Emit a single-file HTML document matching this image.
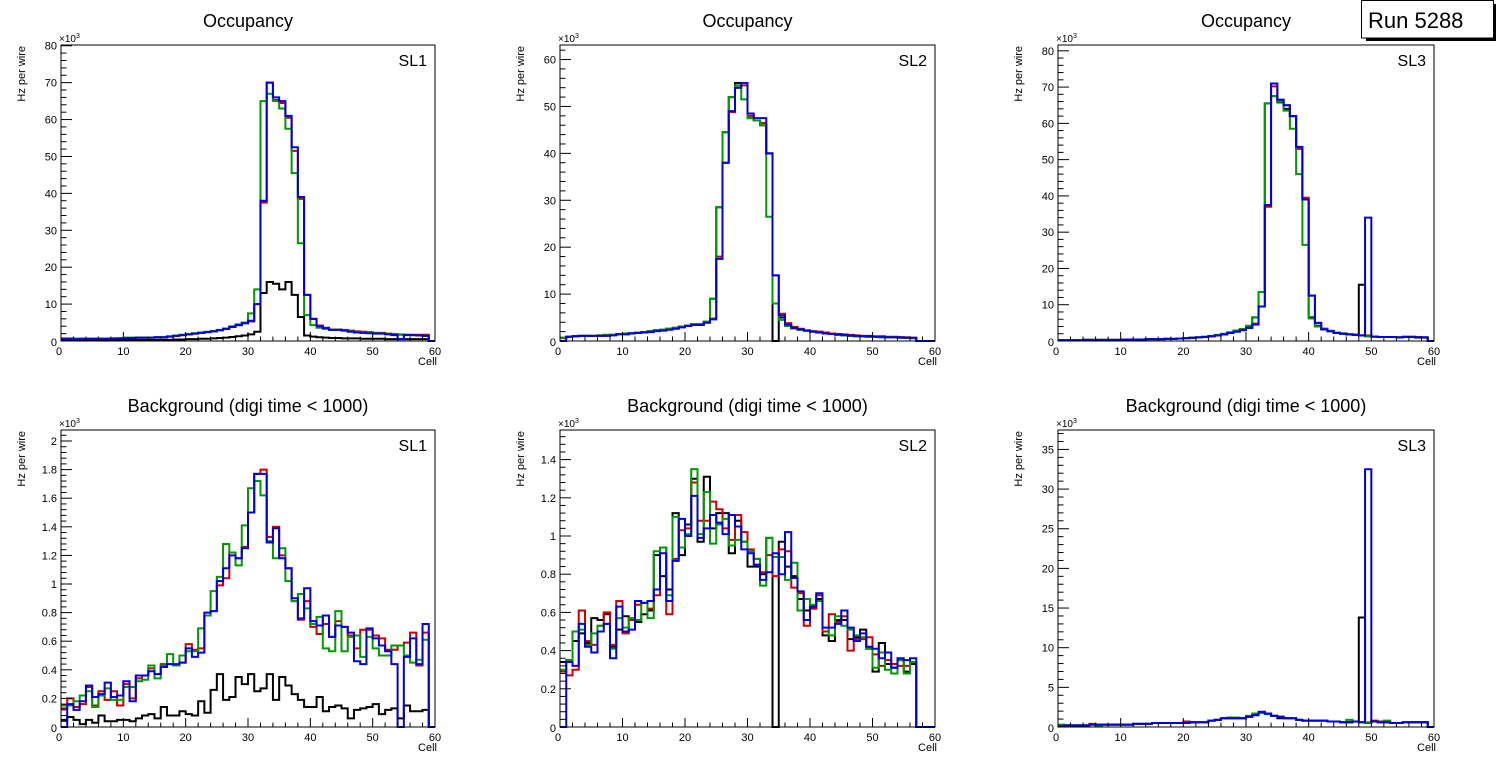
<!DOCTYPE html>
<html><head><meta charset="utf-8"><style>
html,body{margin:0;padding:0;background:#fff}
svg{display:block;font-family:"Liberation Sans",sans-serif}
</style></head><body>
<svg id="c" width="1496" height="772" viewBox="0 0 1496 772"></svg>
<script>
const cells = 60;
const tlBlack=[0.3,0.3,0.3,0.3,0.3,0.3,0.3,0.3,0.3,0.3,0.3,0.3,0.3,0.3,0.3,0.3,0.3,0.3,0.4,0.4,0.5,0.5,0.6,0.6,0.7,0.8,0.9,1.1,1.3,1.5,1.8,2.5,13,16,15.5,14,16,12.5,6.5,1.5,1.2,1.0,0.9,0.8,0.8,0.7,0.7,0.7,0.6,0.6,0.6,0.6,0.5,0.5,0.5,0.5,0.5,0.5,0.5,0];
const tlRed=[0.7,0.7,0.6,0.6,0.6,0.6,0.6,0.6,0.7,0.7,0.8,0.8,0.9,0.9,0.9,1.0,1.0,1.2,1.4,1.6,1.8,2.0,2.2,2.4,2.6,2.9,3.3,3.8,4.3,4.8,5.3,10,37.5,70,65.3,64.5,60.5,51.5,38.5,12.5,6,4.2,3.6,3.1,3.1,3.0,2.8,2.6,2.5,2.4,2.2,2.2,2.0,1.9,1.7,1.7,1.7,1.7,1.7,0];
const tlGreen=[0.5,0.6,0.6,0.6,0.6,0.6,0.6,0.6,0.7,0.7,0.9,0.9,0.9,0.9,0.9,1.0,1.0,1.3,1.5,1.7,1.9,2.1,2.3,2.5,2.7,3.0,3.4,4.0,4.5,5.0,7.5,14,65,67,65,63,57.5,45.5,26.5,7,4.3,3.6,3.3,3.0,3.0,2.9,2.6,2.4,2.3,2.2,2.1,2.1,1.9,1.8,1.8,1.7,1.6,1.5,1.4,0];
const tlBlue=[0.5,0.5,0.5,0.6,0.6,0.6,0.6,0.6,0.6,0.7,0.8,0.8,0.9,0.9,0.9,1.0,1.0,1.2,1.4,1.6,1.8,2.0,2.2,2.4,2.6,2.9,3.3,3.8,4.3,4.8,5.5,10,38,70,66,65,61,52.5,39,12.5,6,4,3.5,3,3,2.8,2.5,2.3,2.2,2.1,2,2,1.8,1.6,0.5,1.6,1.6,1.5,1.4,0];

const tmBlack=[0.7,0.9,1.0,1.1,1.1,1.1,1.2,1.3,1.3,1.5,1.6,1.7,1.8,1.9,2.1,2.3,2.4,2.6,2.8,3.1,3.3,3.6,3.6,4.1,9,28.5,44.5,52,55,55,47.5,47,46,40,0,5,3.2,2.7,2.4,2.2,2.0,1.8,1.6,1.5,1.3,1.2,1.1,1.0,1.0,0.9,0.9,0.8,0.8,0.8,0.7,0.7,0.6,0,0,0];
const tmRed=[0.6,0.9,1.0,1.1,1.1,1.1,1.1,1.2,1.3,1.5,1.5,1.7,1.8,1.9,2.0,2.2,2.3,2.5,2.8,3.1,3.3,3.5,3.5,4.0,4.8,18,38,48.8,54,54.5,48,47,46.5,40,14,5.8,3.8,3.0,2.6,2.3,2.1,2.0,1.8,1.6,1.5,1.4,1.3,1.2,1.1,1.1,1.0,1.0,0.9,0.9,0.8,0.8,0.7,0,0,0];
const tmGreen=[0.7,0.9,1.0,1.1,1.1,1.1,1.2,1.3,1.3,1.5,1.6,1.7,1.8,1.9,2.1,2.3,2.4,2.6,2.8,3.1,3.3,3.6,3.6,4.1,9,28.5,44.5,52,54.5,51.5,47.5,47,46,26.5,8,4.5,3.2,2.7,2.4,2.2,2.0,1.8,1.6,1.5,1.3,1.2,1.1,1.0,1.0,0.9,0.9,0.8,0.8,0.8,0.7,0.7,0.6,0,0,0];
const tmBlue=[0,0.9,1.0,1.1,1.1,1.1,1.1,1.1,1.2,1.4,1.4,1.6,1.7,1.8,1.9,2.1,2.2,2.4,2.6,2.9,3.2,3.4,3.4,3.9,4.6,17.5,38,49,54,55,48.5,47.5,47.5,40,14,5.5,3.5,2.8,2.5,2.2,2.0,1.8,1.6,1.5,1.4,1.3,1.2,1.1,1.0,1.0,0.9,0.9,0.8,0.8,0.8,0.7,0.7,0,0,0];

const trBlack=[0.2,0.2,0.2,0.2,0.3,0.3,0.3,0.3,0.3,0.3,0.4,0.4,0.4,0.4,0.5,0.5,0.5,0.6,0.6,0.7,0.8,0.9,1.0,1.1,1.3,1.5,1.8,2.2,2.6,3.0,3.8,6.5,13.5,65.5,67.5,65.8,64,62,53,39,6.5,4.2,3.2,2.7,2.2,2.0,1.8,1.7,15.5,1.3,1.2,1.1,1.1,1.1,1.0,1.1,1.1,1.0,1.0,0];
const trRed=[0.2,0.2,0.2,0.2,0.3,0.3,0.3,0.3,0.3,0.3,0.4,0.4,0.4,0.4,0.5,0.5,0.5,0.6,0.6,0.7,0.8,0.9,1.0,1.1,1.3,1.5,1.8,2.2,2.6,3.0,3.6,4.8,9.5,37,70.2,66.5,65,62,53,39.5,12.5,5,3.4,2.8,2.3,2.1,1.9,1.8,1.6,1.5,1.2,1.1,1.1,1.1,1.0,1.2,1.2,1.1,1.0,0];
const trGreen=[0.2,0.2,0.2,0.2,0.3,0.3,0.3,0.3,0.3,0.3,0.4,0.4,0.4,0.4,0.5,0.5,0.5,0.6,0.6,0.7,0.8,0.9,1.0,1.2,1.4,1.7,2.0,2.4,2.9,3.3,4.2,6.5,13.5,65.5,67.5,66,63.5,58.5,46,26.5,6.2,4,3.3,2.8,2.3,2.1,1.9,1.7,1.5,1.3,1.2,1.1,1.1,1.1,1.0,1.1,1.1,0.9,0.9,0];
const trBlue=[0.2,0.2,0.2,0.2,0.3,0.3,0.3,0.3,0.3,0.3,0.4,0.4,0.4,0.4,0.5,0.5,0.5,0.6,0.6,0.7,0.8,0.9,1.0,1.1,1.3,1.5,1.8,2.2,2.6,3.0,3.6,4.5,9.5,37.5,71,66.5,65,62,53.5,39,12.5,5,3.2,2.7,2.2,2.0,1.8,1.7,1.5,34,1.2,1.1,1.1,1.1,1.0,1.1,1.1,1.0,1.0,0];

const blBlack=[0.05,0.07,0.05,0.02,0.05,0.03,0.08,0.04,0.04,0.05,0.05,0.04,0.06,0.08,0.09,0.06,0.14,0.08,0.08,0.11,0.09,0.08,0.18,0.10,0.26,0.37,0.19,0.21,0.35,0.30,0.37,0.25,0.27,0.37,0.19,0.35,0.29,0.23,0.19,0.14,0.14,0.21,0.11,0.14,0.15,0.13,0.06,0.12,0.13,0.14,0.16,0.09,0.12,0.13,0.06,0.15,0.11,0.11,0.12,0];
const blRed=[0.13,0.20,0.14,0.16,0.28,0.15,0.25,0.19,0.25,0.15,0.30,0.20,0.34,0.36,0.41,0.37,0.44,0.44,0.43,0.45,0.58,0.54,0.55,0.78,0.81,0.99,1.04,1.22,1.18,1.26,1.50,1.77,1.80,1.33,1.40,1.20,1.11,0.88,0.75,0.88,0.70,0.65,0.72,0.63,0.74,0.70,0.64,0.55,0.68,0.68,0.64,0.62,0.54,0.54,0.57,0.59,0.66,0.43,0.66,0];
const blGreen=[0.15,0.15,0.18,0.22,0.25,0.14,0.22,0.27,0.19,0.19,0.28,0.28,0.32,0.33,0.43,0.34,0.43,0.51,0.43,0.50,0.53,0.53,0.69,0.78,0.95,1.05,1.28,1.22,1.13,1.41,1.67,1.72,1.62,1.30,1.18,1.25,1.02,0.88,0.93,0.83,0.72,0.77,0.55,0.53,0.81,0.53,0.63,0.64,0.49,0.63,0.55,0.50,0.50,0.57,0.57,0.50,0.45,0.47,0.61,0];
const blBlue=[0,0.16,0.12,0.18,0.29,0.21,0.23,0.31,0.21,0.22,0.32,0.18,0.36,0.36,0.39,0.37,0.42,0.44,0.44,0.45,0.55,0.49,0.52,0.80,0.81,1.02,1.11,1.20,1.18,1.25,1.50,1.77,1.77,1.29,1.39,1.18,1.11,0.90,0.76,0.97,0.74,0.71,0.78,0.63,0.71,0.70,0.66,0.46,0.44,0.69,0.62,0.57,0.53,0.44,0,0.49,0.62,0.44,0.72,0];

const bmBlack=[0.34,0.35,0.45,0.49,0.44,0.57,0.56,0.59,0.42,0.51,0.58,0.56,0.55,0.59,0.61,0.90,0.79,0.72,1.12,0.90,1.06,1.30,0.97,1.31,1.04,1.12,1.12,0.91,1.08,0.97,0.84,0.84,0.80,0.99,0,0.97,0.84,0.79,0.67,0.61,0.62,0.67,0.48,0.45,0.56,0.56,0.46,0.47,0.51,0.41,0.29,0.44,0.33,0.31,0.35,0.29,0.33,0,0,0];
const bmRed=[0.29,0.27,0.30,0.61,0.45,0.43,0.53,0.60,0.43,0.66,0.49,0.56,0.64,0.65,0.62,0.69,0.94,0.59,0.88,1.03,1.04,1.28,1.08,1.08,1.18,1.14,1.04,0.98,1.11,1.02,0.93,0.88,0.81,0.90,0.79,0.93,0.92,0.73,0.70,0.53,0.62,0.69,0.50,0.59,0.55,0.58,0.40,0.46,0.46,0.47,0.38,0.32,0.35,0.33,0.32,0.32,0.34,0,0,0];
const bmGreen=[0.30,0.35,0.50,0.51,0.43,0.49,0.53,0.54,0.41,0.57,0.52,0.57,0.56,0.65,0.57,0.92,0.94,0.69,1.10,0.94,1.01,1.35,1.01,1.23,0.96,1.06,1.09,0.95,0.98,0.97,0.92,0.88,0.74,0.99,0.89,0.89,0.77,0.86,0.61,0.67,0.64,0.66,0.52,0.48,0.58,0.53,0.51,0.48,0.47,0.41,0.31,0.39,0.30,0.28,0.35,0.28,0.34,0,0,0];
const bmBlue=[0,0.34,0.32,0.54,0.42,0.39,0.50,0.54,0.36,0.63,0.50,0.51,0.66,0.65,0.66,0.72,0.91,0.66,0.87,1.09,1.00,1.21,0.99,1.04,1.11,1.07,1.01,1.11,1.05,0.93,0.91,0.85,0.77,0.81,0.91,0.80,1.02,0.78,0.71,0.56,0.63,0.70,0.52,0.52,0.54,0.61,0.52,0.45,0.49,0.42,0.41,0.36,0.39,0.31,0.36,0.35,0.36,0,0,0];

const brBlack=[0.1,0.2,0.2,0.2,0.2,0.3,0.3,0.3,0.3,0.3,0.3,0.3,0.4,0.4,0.4,0.5,0.5,0.5,0.5,0.5,0.5,0.6,0.6,0.6,0.8,0.9,1.1,1.1,1.1,1.1,1.3,1.5,1.8,1.7,1.4,1.1,1.1,1.1,0.9,0.8,0.8,0.8,0.8,0.7,0.7,0.6,0.6,0.7,13.8,0.5,0.7,0.6,0.6,0.5,0.5,0.6,0.6,0.6,0.6,0];
const brRed=[0.1,0.2,0.1,0.2,0.2,0.4,0.3,0.3,0.3,0.3,0.3,0.3,0.4,0.4,0.4,0.5,0.5,0.5,0.5,0.5,0.7,0.6,0.6,0.6,0.8,0.9,1.1,1.1,1.1,1.1,1.3,1.5,1.9,1.7,1.4,1.3,1.1,1.1,0.9,0.8,0.8,0.8,0.8,0.7,0.7,0.6,0.6,0.7,0.6,0.5,0.8,0.7,0.6,0.5,0.5,0.6,0.6,0.6,0.6,0];
const brGreen=[0.3,0.2,0.2,0.2,0.2,0.3,0.1,0.3,0.3,0.3,0.3,0.3,0.4,0.4,0.4,0.5,0.5,0.5,0.5,0.5,0.5,0.6,0.6,0.6,0.8,0.9,1.1,1.2,1.2,1.1,1.4,1.7,1.8,1.6,1.4,1.3,1.1,1.1,0.9,0.8,0.8,0.8,0.8,0.7,0.7,0.6,0.9,0.7,0.6,0.6,0.7,0.6,0.8,0.5,0.5,0.6,0.6,0.6,0.6,0];
const brBlue=[0.1,0.2,0.2,0.2,0.2,0.3,0.3,0.3,0.3,0.3,0.3,0.3,0.4,0.4,0.4,0.5,0.5,0.5,0.5,0.5,0.5,0.6,0.6,0.6,0.8,0.9,1.1,1.1,1.1,1.1,1.3,1.5,1.9,1.7,1.4,1.3,1.1,1.1,0.9,0.8,0.8,0.8,0.8,0.7,0.7,0.6,0.6,0.7,0.6,32.5,0.7,0.6,0.6,0.5,0.5,0.6,0.6,0.6,0.6,0];

const xTickLabels=["0","10","20","30","40","50","60"];
const tlYTicks=[0,10,20,30,40,50,60,70,80];
const tmYTicks=[0,10,20,30,40,50,60];
const trYTicks=[0,10,20,30,40,50,60,70,80];
const blYTicks=[0,0.2,0.4,0.6,0.8,1,1.2,1.4,1.6,1.8,2];
const bmYTicks=[0,0.2,0.4,0.6,0.8,1,1.2,1.4];
const brYTicks=[0,5,10,15,20,25,30,35];

const NS="http://www.w3.org/2000/svg";
const svg=document.getElementById('c');
function mk(tag,attrs,parent){const e=document.createElementNS(NS,tag);for(const k in attrs)e.setAttribute(k,attrs[k]);(parent||svg).appendChild(e);return e;}

const panels=[
 {id:'sl1-occupancy',x0:61,x1:435,y0:45,y1:341,ymax:80.2,ticks:tlYTicks,minor:2,title:'Occupancy',sl:'SL1',s:[tlBlack,tlRed,tlGreen,tlBlue]},
 {id:'sl2-occupancy',x0:560,x1:935,y0:45,y1:341,ymax:63.1,ticks:tmYTicks,minor:2,title:'Occupancy',sl:'SL2',s:[tmBlack,tmRed,tmGreen,tmBlue]},
 {id:'sl3-occupancy',x0:1058,x1:1434,y0:45,y1:341,ymax:81.6,ticks:trYTicks,minor:2,title:'Occupancy',sl:'SL3',s:[trBlack,trRed,trGreen,trBlue]},
 {id:'sl1-background',x0:61,x1:435,y0:430,y1:727,ymax:2.077,ticks:blYTicks,minor:0.04,title:'Background (digi time < 1000)',sl:'SL1',s:[blBlack,blRed,blGreen,blBlue]},
 {id:'sl2-background',x0:560,x1:935,y0:430,y1:727,ymax:1.555,ticks:bmYTicks,minor:0.04,title:'Background (digi time < 1000)',sl:'SL2',s:[bmBlack,bmRed,bmGreen,bmBlue]},
 {id:'sl3-background',x0:1058,x1:1434,y0:430,y1:727,ymax:37.45,ticks:brYTicks,minor:1,title:'Background (digi time < 1000)',sl:'SL3',s:[brBlack,brRed,brGreen,brBlue]}
];
const colors=['#000000','#cc0000','#009900','#0000dd'];
const names=['black','red','green','blue'];

panels.forEach(p=>{
  const g=mk('g',{});
  
  
  const X=v=>p.x0+(p.x1-p.x0)*v/cells;
  const Y=v=>p.y1-(p.y1-p.y0)*Math.min(v,p.ymax)/p.ymax;
  const cx=(p.x0+p.x1)/2;
  const t=mk('text',{x:cx,y:p.y0-18,'text-anchor':'middle','font-size':18,fill:'#000'},g);t.textContent=p.title;
  
  
  p.s.forEach((arr,i)=>{
    let d='M'+X(0)+','+Y(arr[0]);
    for(let b=0;b<cells;b++){ if(b>0) d+=' V'+Y(arr[b]); d+=' H'+X(b+1); }
    const path=mk('path',{d:d,fill:'none',stroke:colors[i],'stroke-width':2},g);
    
    
  });
  const fr=mk('rect',{x:p.x0,y:p.y0,width:p.x1-p.x0,height:p.y1-p.y0,fill:'none',stroke:'#000','stroke-width':1},g);
  
  
  const ax=mk('g',{stroke:'#000','stroke-width':1},g);
  
  
  for(let v=0;v<=60;v+=2){const L=(v%10===0)?9:4.5;mk('line',{x1:X(v),x2:X(v),y1:p.y1,y2:p.y1-L},ax);}
  xTickLabels.forEach((lab,i)=>{const v=i*10;const tx=mk('text',{x:X(v)+(v===0?-2:0),y:p.y1+14,'text-anchor':'middle','font-size':11,fill:'#000',stroke:'none'},g);tx.textContent=lab;
    
    });
  const ay=mk('g',{stroke:'#000','stroke-width':1},g);
  
  
  const step=p.ticks[1]-p.ticks[0];
  for(let k=0;k*p.minor<=p.ymax+1e-9;k++){const v=k*p.minor;const major=Math.abs(v/step-Math.round(v/step))<1e-6;mk('line',{x1:p.x0,x2:p.x0+(major?11:5.5),y1:Y(v),y2:Y(v)},ay);}
  p.ticks.forEach(v=>{const ty=mk('text',{x:p.x0-4,y:Y(v)+4+(v===0?1:0),'text-anchor':'end','font-size':11,fill:'#000'},g);ty.textContent=String(v);
    
    });
  const ex=mk('text',{x:p.x0-2,y:p.y0-3,'font-size':10,fill:'#000'},g);ex.innerHTML='×10<tspan dy="-4" font-size="7">3</tspan>';
  
  
  const yl=mk('text',{x:0,y:0,transform:'translate('+(p.x0-36)+','+(p.y0+1)+') rotate(-90)','text-anchor':'end','font-size':11,fill:'#000'},g);yl.textContent='Hz per wire';
  
  
  const xl=mk('text',{x:p.x1+2,y:p.y1+24,'text-anchor':'end','font-size':11,fill:'#000'},g);xl.textContent='Cell';
  
  
  const sl=mk('text',{x:p.x1-8,y:p.y0+21,'text-anchor':'end','font-size':16,fill:'#000'},g);sl.textContent=p.sl;
  
  
});

const rg=mk('g',{});


mk('rect',{x:1366,y:38,width:130,height:3,fill:'#000'},rg);
mk('rect',{x:1494,y:4,width:2,height:37,fill:'#000'},rg);
mk('rect',{x:1361.5,y:0.5,width:132,height:37.5,fill:'#fff',stroke:'#000','stroke-width':1},rg);
const rt=mk('text',{x:1368,y:28,'font-size':22,fill:'#000'},rg);rt.textContent='Run 5288';


</script>
</body></html>
